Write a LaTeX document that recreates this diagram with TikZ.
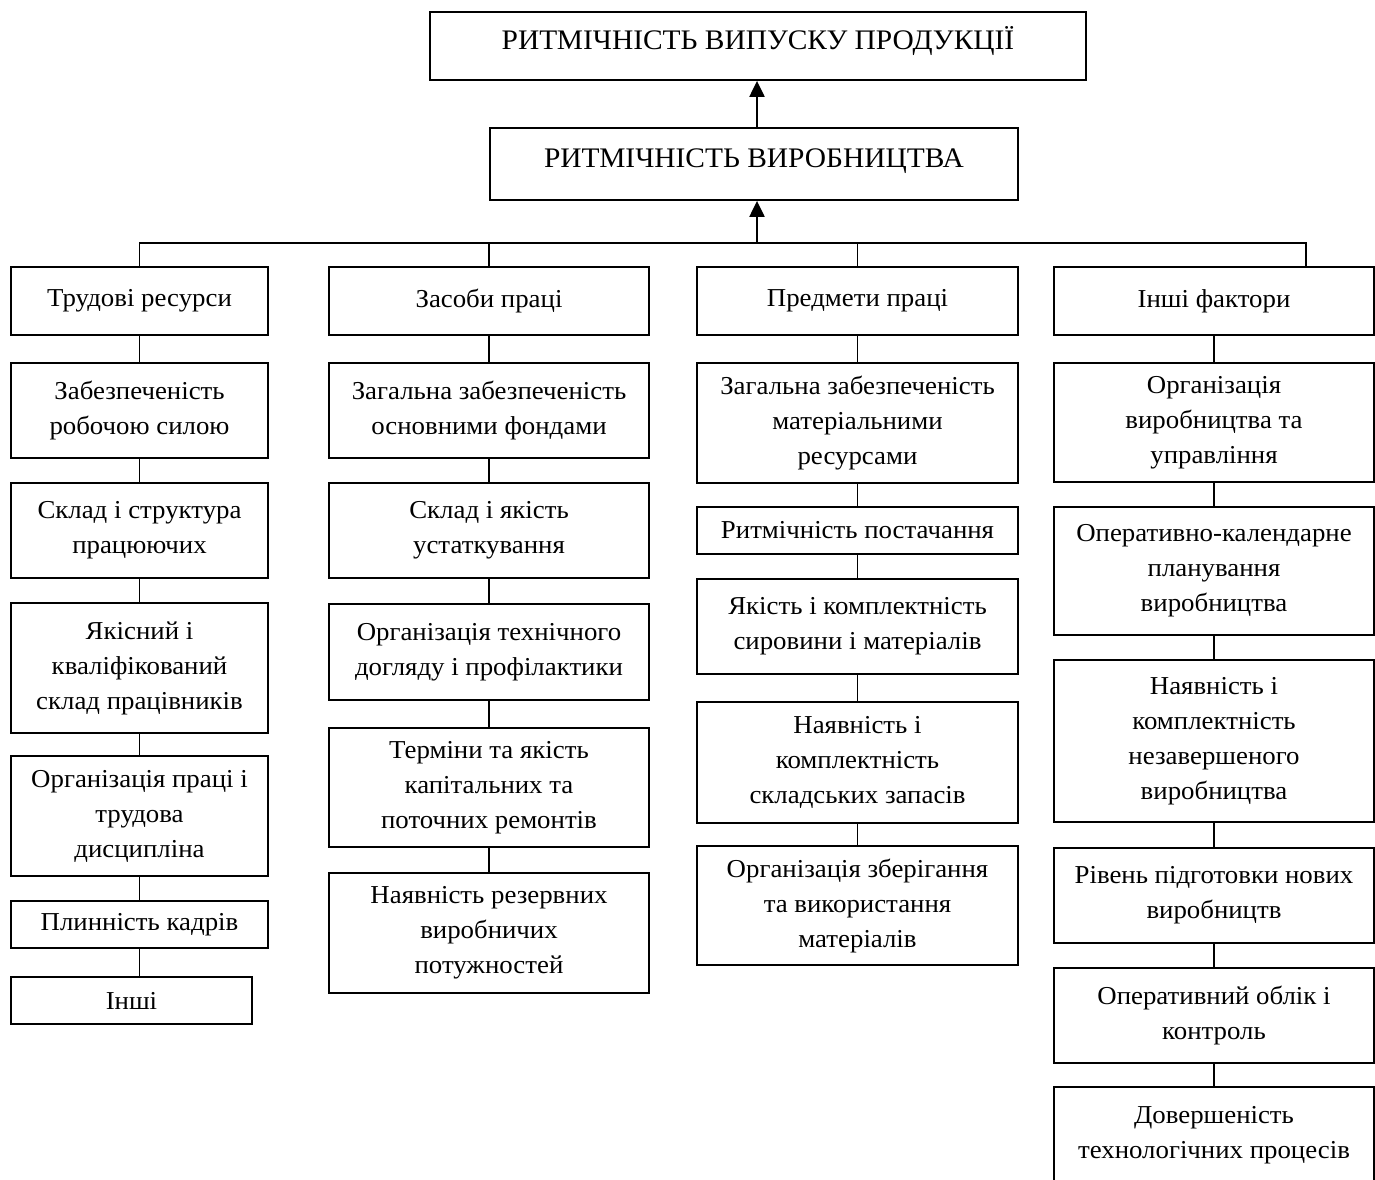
\documentclass[tikz,border=0pt]{standalone}
\usepackage{fontspec}
\setmainfont{Liberation Serif}[FakeStretch=1.04]
\usetikzlibrary{arrows.meta}
\begin{document}
\begin{tikzpicture}[x=1pt,y=-1pt,
  box/.style={draw, line width=1.8pt, align=center, inner sep=0pt, font=\fontsize{25.8}{35}\selectfont},
  headbox/.style={box, font=\fontsize{28.3}{35}\selectfont, text height=19pt, text depth=12pt},
  conn/.style={line width=1.8pt},
  arr/.style={line width=2.2pt, -{Triangle[length=16pt,width=15pt]}}]
\clip (0,0) rectangle (1375,1179);
\fill[white] (0,0) rectangle (1375,1179);

% top
\node[headbox, minimum width=656pt, minimum height=68pt] (r1) at (758,46) {РИТМІЧНІСТЬ ВИПУСКУ ПРОДУКЦІЇ};
\node[headbox, minimum width=528pt, minimum height=72pt] (r2) at (754,164) {РИТМІЧНІСТЬ ВИРОБНИЦТВА};

% column 1
\node[box, minimum width=257pt, minimum height=68pt] (t1) at (139.5,301) {Трудові ресурси};
\node[box, minimum width=257pt, minimum height=95pt] (a1) at (139.5,410.5) {Забезпеченість\\робочою силою};
\node[box, minimum width=257pt, minimum height=95pt] (a2) at (139.5,530.5) {Склад і структура\\працюючих};
\node[box, minimum width=257pt, minimum height=130pt] (a3) at (139.5,668) {Якісний і\\кваліфікований\\склад працівників};
\node[box, minimum width=257pt, minimum height=120pt] (a4) at (139.5,816) {Організація праці і\\трудова\\дисципліна};
\node[box, minimum width=257pt, minimum height=47pt] (a5) at (139.5,924.5) {Плинність кадрів};
\node[box, minimum width=241pt, minimum height=47pt] (a6) at (131.5,1000.5) {Інші};

% column 2
\node[box, minimum width=320pt, minimum height=68pt] (t2) at (489,301) {Засоби праці};
\node[box, minimum width=320pt, minimum height=95pt] (b1) at (489,410.5) {Загальна забезпеченість\\основними фондами};
\node[box, minimum width=320pt, minimum height=95pt] (b2) at (489,530.5) {Склад і якість\\устаткування};
\node[box, minimum width=320pt, minimum height=96pt] (b3) at (489,652) {Організація технічного\\догляду і профілактики};
\node[box, minimum width=320pt, minimum height=119pt] (b4) at (489,787.5) {Терміни та якість\\капітальних та\\поточних ремонтів};
\node[box, minimum width=320pt, minimum height=120pt] (b5) at (489,933) {Наявність резервних\\виробничих\\потужностей};

% column 3
\node[box, minimum width=321pt, minimum height=68pt] (t3) at (857.5,301) {Предмети праці};
\node[box, minimum width=321pt, minimum height=120pt] (c1) at (857.5,423) {Загальна забезпеченість\\матеріальними\\ресурсами};
\node[box, minimum width=321pt, minimum height=47pt] (c2) at (857.5,530.5) {Ритмічність постачання};
\node[box, minimum width=321pt, minimum height=95pt] (c3) at (857.5,626.5) {Якість і комплектність\\сировини і матеріалів};
\node[box, minimum width=321pt, minimum height=121pt] (c4) at (857.5,762.5) {Наявність і\\комплектність\\складських запасів};
\node[box, minimum width=321pt, minimum height=119pt] (c5) at (857.5,905.5) {Організація зберігання\\та використання\\матеріалів};

% column 4
\node[box, minimum width=320pt, minimum height=68pt] (t4) at (1214,301) {Інші фактори};
\node[box, minimum width=320pt, minimum height=119pt] (d1) at (1214,422.5) {Організація\\виробництва та\\управління};
\node[box, minimum width=320pt, minimum height=128pt] (d2) at (1214,571) {Оперативно-календарне\\планування\\виробництва};
\node[box, minimum width=320pt, minimum height=162pt] (d3) at (1214,741) {Наявність і\\комплектність\\незавершеного\\виробництва};
\node[box, minimum width=320pt, minimum height=95pt] (d4) at (1214,895.5) {Рівень підготовки нових\\виробництв};
\node[box, minimum width=320pt, minimum height=95pt] (d5) at (1214,1015.5) {Оперативний облік і\\контроль};
\node[box, minimum width=320pt, minimum height=96pt] (d6) at (1214,1135) {Довершеність\\технологічних процесів};

% bus and arrows
\coordinate (bus) at (757,243);
\coordinate (drop4) at (1306,267);
\draw[conn] (t1.north) |- (bus) -| (drop4);
\draw[conn] (t2.north) -- (t2.north |- bus);
\draw[conn] (t3.north) -- (t3.north |- bus);
\draw[arr] (bus) -- (bus |- r2.south);
\draw[arr] (r2.north -| bus) -- (r1.south -| bus);

% column connectors
\foreach \u/\v in {t1/a1,a1/a2,a2/a3,a3/a4,a4/a5,
                   t2/b1,b1/b2,b2/b3,b3/b4,b4/b5,
                   t3/c1,c1/c2,c2/c3,c3/c4,c4/c5,
                   t4/d1,d1/d2,d2/d3,d3/d4,d4/d5,d5/d6}
  \draw[conn] (\u.south) -- (\v.north);
\draw[conn] (a5.south) -- (a5.south |- a6.north);
\end{tikzpicture}
\end{document}
